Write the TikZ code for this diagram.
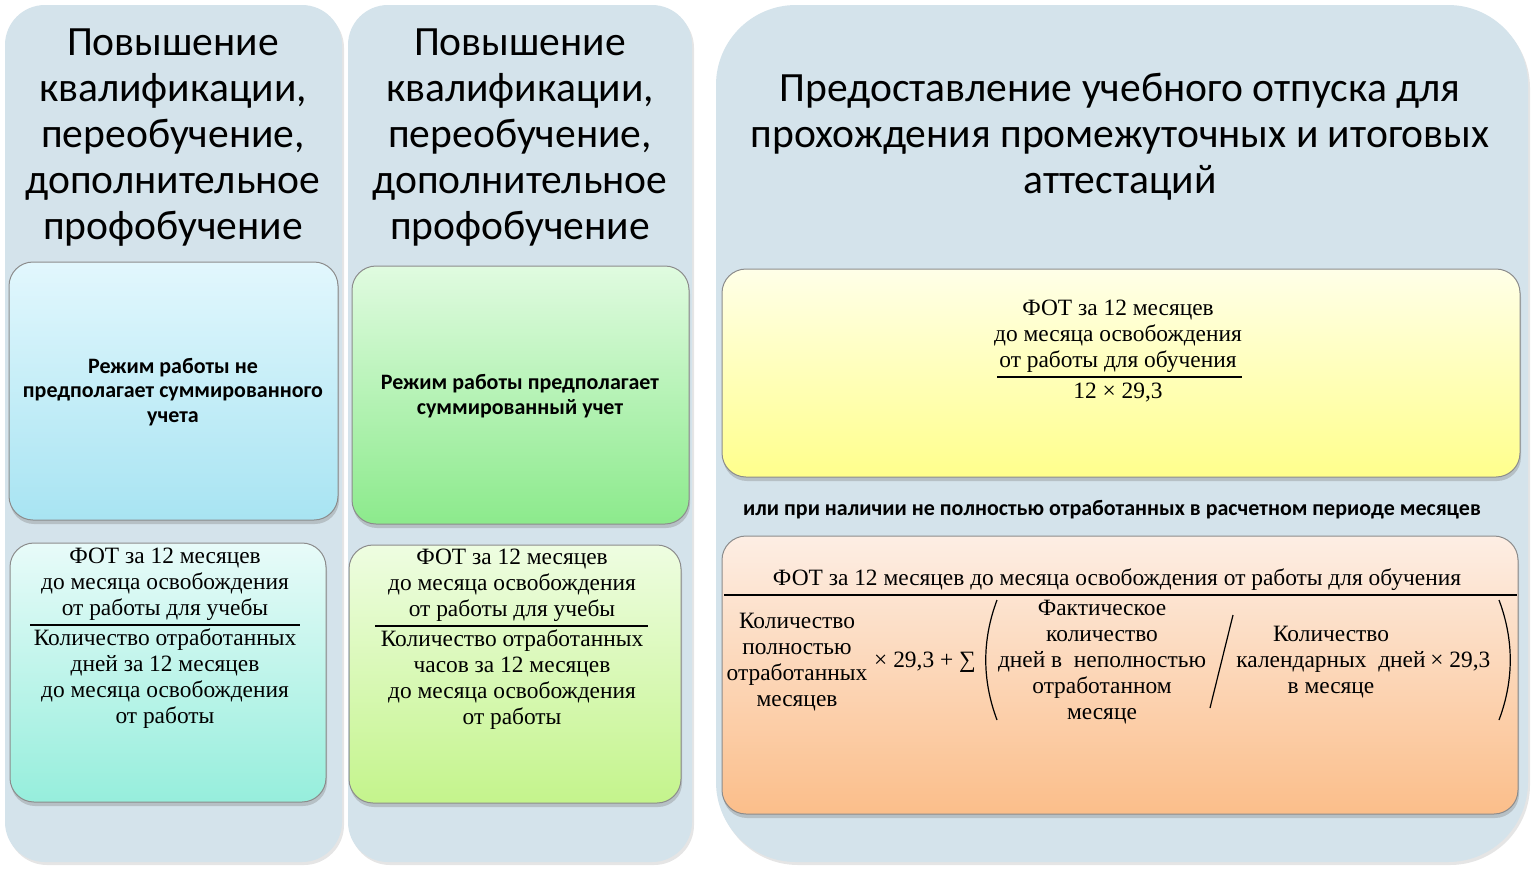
\documentclass[tikz,border=0pt]{standalone}
\usepackage{fontspec}
\setmainfont{Liberation Serif}
\newfontfamily\headfont{Carlito}
\usetikzlibrary{shadows}

\definecolor{panelbg}{RGB}{212,227,235}
\definecolor{cardAtop}{RGB}{226,247,253}
\definecolor{cardAbot}{RGB}{168,228,242}
\definecolor{cardBtop}{RGB}{224,251,224}
\definecolor{cardBbot}{RGB}{140,234,140}
\definecolor{cardCtop}{RGB}{232,251,249}
\definecolor{cardCbot}{RGB}{150,238,220}
\definecolor{cardDtop}{RGB}{238,253,225}
\definecolor{cardDbot}{RGB}{196,244,140}
\definecolor{cardEtop}{RGB}{255,255,232}
\definecolor{cardEbot}{RGB}{255,255,140}
\definecolor{cardFtop}{RGB}{253,238,228}
\definecolor{cardFbot}{RGB}{251,190,138}

\begin{document}
\begin{tikzpicture}[
  x=0.5pt, y=-0.5pt,
  panel/.style={fill=panelbg, draw=none,
    drop shadow={opacity=0.2, shadow xshift=1pt, shadow yshift=-1.5pt}},
  card/.style={draw=black!45, line width=0.5pt, rounded corners=12pt,
    drop shadow={opacity=0.35, shadow xshift=0.5pt, shadow yshift=-2pt}},
  head/.style={font=\headfont\fontsize{20.8}{23}\selectfont, align=center},
  modetext/.style={font=\headfont\bfseries\fontsize{11}{12.25}\selectfont, align=center},
  formula/.style={font=\fontsize{11.7}{13}\selectfont, align=center, inner sep=0pt},
  frac/.style={line width=0.6pt}
]
  \useasboundingbox[fill=white] (0,0) rectangle (1532,869);

  % panels
  \path[panel, rounded corners=20pt] (5,5) rectangle (342,862);
  \path[panel, rounded corners=20pt] (348,5) rectangle (692,862);
  \path[panel, rounded corners=40pt] (716,5) rectangle (1528,862);

  % cards
  \path[card, top color=cardAtop, bottom color=cardAbot] (9,262) rectangle (338,520);
  \path[card, top color=cardBtop, bottom color=cardBbot] (352,266) rectangle (689,524);
  \path[card, top color=cardCtop, bottom color=cardCbot] (10,543) rectangle (326,802);
  \path[card, top color=cardDtop, bottom color=cardDbot] (349,545) rectangle (681,803);
  \path[card, top color=cardEtop, bottom color=cardEbot] (722,269) rectangle (1520,477);
  \path[card, top color=cardFtop, bottom color=cardFbot] (722,536) rectangle (1518,814);

  % headings
  \node[head] (h1) at (173,138) {Повышение\\квалификации,\\переобучение,\\дополнительное\\профобучение};
  \node[head] (h2) at (520,138) {Повышение\\квалификации,\\переобучение,\\дополнительное\\профобучение};
  \node[head] (h3) at (1120,137) {Предоставление учебного отпуска для\\прохождения промежуточных и итоговых\\аттестаций};

  \node[modetext] (mA) at (173,392) {Режим работы не\\предполагает суммированного\\учета};
  \node[modetext] (mB) at (520,396) {Режим работы предполагает\\суммированный учет};

  % days
  \node[formula] (numC) at (165,584) {ФОТ за 12 месяцев\\до месяца освобождения\\от работы для учебы};
  \node[formula] (denC) at (165,679) {Количество отработанных\\дней за 12 месяцев\\до месяца освобождения\\от работы};
  \draw[frac] (30,625) -- (300,625);

  % hours
  \node[formula] (numD) at (512,585) {ФОТ за 12 месяцев\\до месяца освобождения\\от работы для учебы};
  \node[formula] (denD) at (512,680) {Количество отработанных\\часов за 12 месяцев\\до месяца освобождения\\от работы};
  \draw[frac] (375,626) -- (648,626);

  % leave
  \node[formula] (numE) at (1118,336) {ФОТ за 12 месяцев\\до месяца освобождения\\от работы для обучения};
  \node[formula] (denE) at (1118,393) {12 × 29,3};
  \draw[frac] (997,377) -- (1242,377);

  \node[modetext] (orline) at (1112,510) {или при наличии не полностью отработанных в расчетном периоде месяцев};

  \node[formula] (numF) at (1117,580) {ФОТ за 12 месяцев до месяца освобождения от работы для обучения};
  \draw[frac] (724,595) -- (1517,595);
  \node[formula] (fullM) at (797,662) {Количество\\полностью\\отработанных\\месяцев};
  \node[formula] (multA) at (925,662) {× 29,3 + ∑};
  \node[formula] (factD) at (1102,662) {Фактическое\\количество\\дней в\ \ неполностью\\отработанном\\месяце};
  \node[formula] (calD) at (1331,662) {Количество\\календарных\ \ дней\\в месяце};
  \node[formula, anchor=west] (multB) at ([xshift=2pt]calD.east) {× 29,3};
  \draw[frac] (997,600) .. controls (982,640) and (982,680) .. (997,720);
  \draw[frac] (1499,600) .. controls (1514,640) and (1514,680) .. (1499,720);
  \draw[frac] (1233,615) -- (1210,708);
\end{tikzpicture}
\end{document}
